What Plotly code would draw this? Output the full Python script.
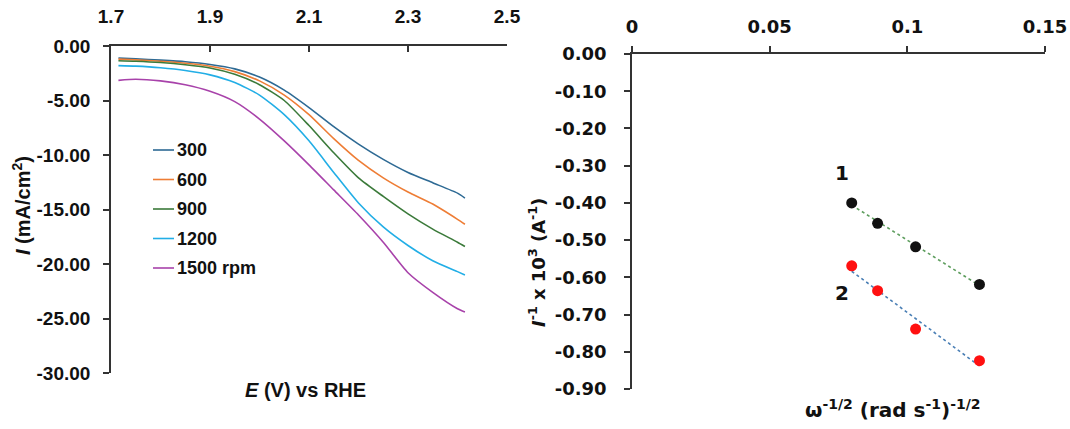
import numpy as np
import plotly.graph_objects as go

# ---- Left panel: LSV curves at different rotation rates ----
E_V = [1.715, 1.75, 1.80, 1.85, 1.90, 1.95, 2.00, 2.05, 2.10, 2.15, 2.20, 2.25, 2.30, 2.35, 2.40, 2.415]
i_300 = [-1.10, -1.18, -1.30, -1.45, -1.70, -2.10, -2.85, -4.05, -5.65, -7.40, -9.00, -10.40, -11.60, -12.55, -13.50, -13.95]
i_600 = [-1.20, -1.27, -1.40, -1.58, -1.85, -2.35, -3.20, -4.50, -6.30, -8.50, -10.50, -12.10, -13.40, -14.50, -15.90, -16.35]
i_900 = [-1.35, -1.40, -1.52, -1.72, -2.02, -2.60, -3.55, -5.00, -7.30, -9.80, -12.10, -13.80, -15.40, -16.80, -18.00, -18.40]
i_1200 = [-1.80, -1.85, -2.00, -2.25, -2.65, -3.35, -4.50, -6.30, -8.70, -11.60, -14.40, -16.60, -18.30, -19.70, -20.70, -21.00]
i_1500 = [-3.15, -3.05, -3.20, -3.55, -4.15, -5.10, -6.70, -8.70, -10.90, -13.20, -15.50, -18.00, -20.80, -22.60, -24.10, -24.40]
rpm_labels = ["300", "600", "900", "1200", "1500 rpm"]
curve_colors = ["#2E6A94", "#EE7D35", "#3B7A3A", "#22AEE6", "#A842AA"]

left_xticks = [1.7, 1.9, 2.1, 2.3, 2.5]
left_yticks = [0, -5, -10, -15, -20, -25, -30]

# ---- Right panel: Koutecky-Levich plot ----
omega_inv_sqrt = [0.0798, 0.0892, 0.1030, 0.1262]
inv_I_1 = [-0.400, -0.455, -0.518, -0.619]
inv_I_2 = [-0.569, -0.636, -0.739, -0.824]
right_xticks = [0, 0.05, 0.1, 0.15]
right_xtext = ["0", "0.05", "0.1", "0.15"]
right_yticks = [0, -0.1, -0.2, -0.3, -0.4, -0.5, -0.6, -0.7, -0.8, -0.9]

W, H = 1070, 429
AX = "#333333"
TXT = "#111111"
FONT_L = "Liberation Sans, Arial, sans-serif"
FONT_R = "DejaVu Sans, sans-serif"


def px(x):
    return x / W


def py(y):
    return 1 - y / H


def bold(labels):
    return [f"<b>{t}</b>" for t in labels]


fig = go.Figure()

for vals, name, col in zip([i_300, i_600, i_900, i_1200, i_1500], rpm_labels, curve_colors):
    fig.add_trace(go.Scatter(x=E_V, y=vals, mode="lines", name=name,
                             line=dict(color=col, width=1.6, shape="spline", smoothing=0.6),
                             xaxis="x", yaxis="y", showlegend=False))

# linear fits through each K-L series
for ys, pt_col, ln_col in [(inv_I_1, "#111111", "#5E9E5E"), (inv_I_2, "#FF1010", "#4A7FB5")]:
    k, b = np.polyfit(omega_inv_sqrt, ys, 1)
    xs = np.array([min(omega_inv_sqrt), max(omega_inv_sqrt)])
    fig.add_trace(go.Scatter(x=xs, y=k * xs + b, mode="lines",
                             line=dict(color=ln_col, width=1.6, dash="dot"),
                             xaxis="x2", yaxis="y2", showlegend=False))
    fig.add_trace(go.Scatter(x=omega_inv_sqrt, y=ys, mode="markers",
                             marker=dict(color=pt_col, size=11),
                             xaxis="x2", yaxis="y2", showlegend=False))

axis_common = dict(showline=True, linecolor=AX, linewidth=1.6, showgrid=False,
                   zeroline=False, ticklen=6, tickwidth=1.6, tickcolor=AX,
                   automargin=False)

fig.update_layout(
    width=W, height=H,
    margin=dict(l=0, r=0, t=0, b=0),
    paper_bgcolor="white", plot_bgcolor="white",
    xaxis=dict(domain=[px(111), px(507)], range=[1.7, 2.5], side="top", anchor="y",
               ticks="inside", tickvals=left_xticks,
               ticktext=bold([f"{v:.1f}" for v in left_xticks]),
               ticklabelstandoff=14,
               tickfont=dict(family=FONT_L, size=19, color=TXT),
               **axis_common),
    yaxis=dict(domain=[py(373), py(46)], range=[-30, 0], anchor="x",
               ticks="outside", tickvals=left_yticks,
               ticktext=bold([f"{v:.2f}" for v in left_yticks]),
               ticklabelstandoff=9,
               tickfont=dict(family=FONT_L, size=19, color=TXT),
               **axis_common),
    xaxis2=dict(domain=[px(632), px(1045)], range=[0, 0.15], side="top", anchor="y2",
                ticks="outside", tickvals=right_xticks, ticktext=bold(right_xtext),
                ticklabelstandoff=6,
                tickfont=dict(family=FONT_R, size=18, color=TXT),
                **axis_common),
    yaxis2=dict(domain=[py(389), py(54)], range=[-0.9, 0], anchor="x2",
                ticks="outside", tickvals=right_yticks,
                ticktext=bold([f"{v:.2f}" for v in right_yticks]),
                ticklabelstandoff=14,
                tickfont=dict(family=FONT_R, size=18, color=TXT),
                **axis_common),
)

# legend for the rotation rates
for k, (name, col) in enumerate(zip(rpm_labels, curve_colors)):
    yy = 150 + k * 29.5
    fig.add_shape(type="line", xref="paper", yref="paper",
                  x0=px(153), x1=px(174), y0=py(yy), y1=py(yy),
                  line=dict(color=col, width=1.6))
    fig.add_annotation(x=px(175), y=py(yy), xref="paper", yref="paper",
                       text=f"<b>{name}</b>", showarrow=False, xanchor="left", yanchor="middle",
                       font=dict(family="Liberation Sans Narrow, Arial Narrow, Liberation Sans, Arial",
                                 size=18, color=TXT))

# axis titles
fig.add_annotation(x=px(305), y=py(390), xref="paper", yref="paper", showarrow=False,
                   xanchor="center", yanchor="middle",
                   text="<b><i>E</i> (V) vs RHE</b>",
                   font=dict(family=FONT_L, size=20, color=TXT))
fig.add_annotation(x=px(22), y=py(206), xref="paper", yref="paper", showarrow=False,
                   xanchor="center", yanchor="middle",
                   text="<b><i>I</i> (mA/cm<sup>2</sup>)</b>", textangle=-90,
                   font=dict(family=FONT_L, size=20, color=TXT))
fig.add_annotation(x=px(893), y=py(409), xref="paper", yref="paper", showarrow=False,
                   xanchor="center", yanchor="middle",
                   text="<b>ω<sup>-1/2</sup> (rad s<sup>-1</sup>)<sup>-1/2</sup></b>",
                   font=dict(family=FONT_R, size=20, color=TXT))
fig.add_annotation(x=px(537), y=py(263), xref="paper", yref="paper", showarrow=False,
                   xanchor="center", yanchor="middle",
                   text="<b><i>I</i><sup>-1</sup> x 10<sup>3</sup> (A<sup>-1</sup>)</b>", textangle=-90,
                   font=dict(family=FONT_R, size=18, color=TXT))

# series labels on the K-L plot
fig.add_annotation(x=0.0762, y=-0.319, xref="x2", yref="y2", showarrow=False,
                   xanchor="center", yanchor="middle",
                   text="<b>1</b>", font=dict(family=FONT_R, size=20, color=TXT))
fig.add_annotation(x=0.0762, y=-0.641, xref="x2", yref="y2", showarrow=False,
                   xanchor="center", yanchor="middle",
                   text="<b>2</b>", font=dict(family=FONT_R, size=20, color=TXT))

fig.write_html("out.html")
